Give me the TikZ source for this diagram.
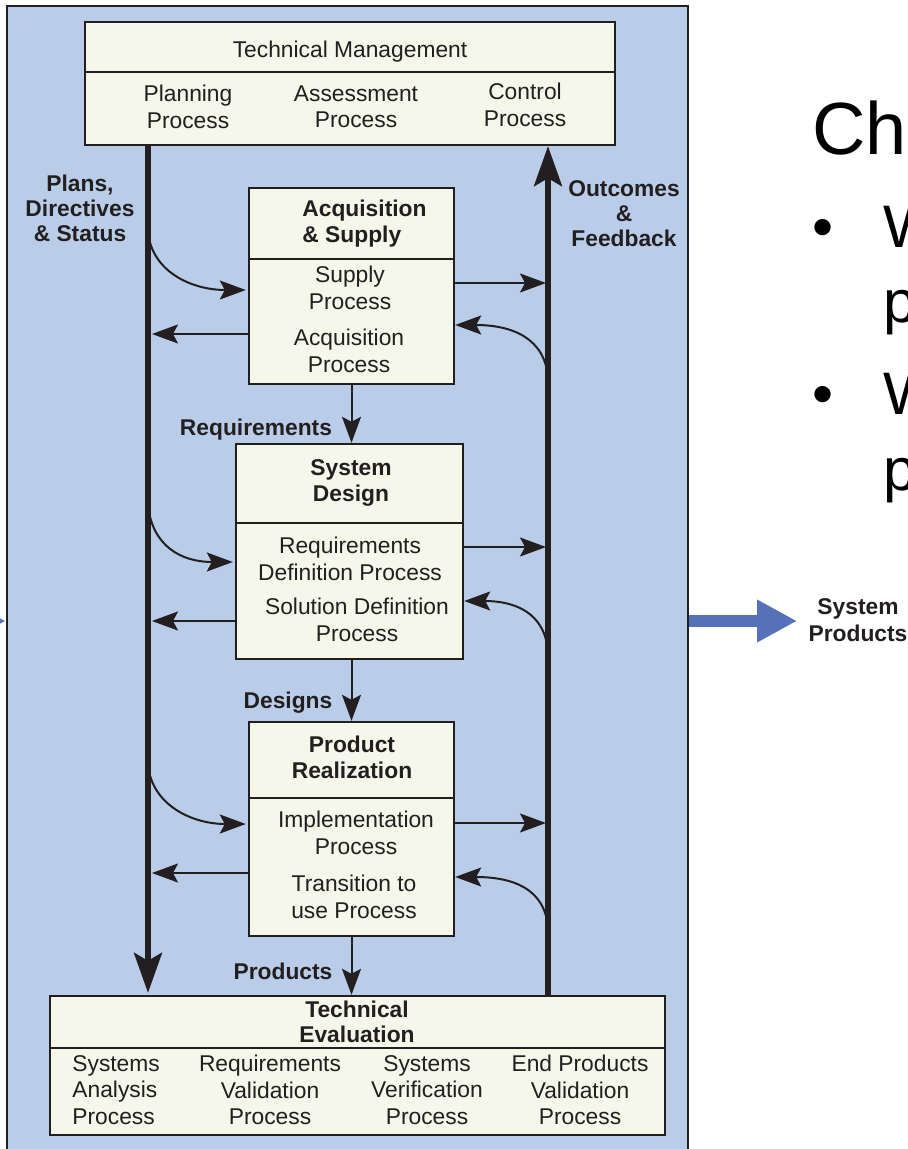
\documentclass[tikz,border=0pt]{standalone}
\usepackage{fontspec}
\setmainfont{Liberation Sans}
\usepackage{xcolor}
\usetikzlibrary{positioning,fit,shapes,calc,arrows.meta}

\definecolor{panelblue}{HTML}{B9CDE9}
\definecolor{boxfill}{HTML}{F4F7E9}
\definecolor{ink}{HTML}{231F20}
\definecolor{arrowblue}{HTML}{5572B9}

\begin{document}
\begin{tikzpicture}[x=0.5pt,y=-0.5pt,
        panel/.style={rectangle,draw=ink,fill=panelblue,line width=1.3pt,
          inner sep=0pt},
        box/.style={rectangle,draw=ink,fill=boxfill,line width=1.2pt,
          inner sep=0pt},
        divider/.style={draw=ink,line width=1.2pt},
        txt/.style={text=ink,align=center,inner sep=0pt,
          font=\fontsize{11.4}{13.2}\selectfont},
        lbl/.style={txt,font=\fontsize{11.4}{12.5}\selectfont\bfseries},
        title/.style={txt,font=\fontsize{11.4}{13.1}\selectfont\bfseries},
        slide/.style={text=black,inner sep=0pt,anchor=base west,
          font=\fontsize{30}{36}\selectfont},
        flow/.style={draw=ink,line width=2.6pt,
          -{Stealth[length=20pt,width=14pt,inset=4pt]}},
        link/.style={draw=ink,line width=1pt,
          -{Stealth[length=13pt,width=9.5pt,inset=2.5pt]}},
        sysarrow/.style={draw=arrowblue,line width=6pt,
          -{Triangle[length=20pt,width=20pt]}}]
      \useasboundingbox (0,0) rectangle (908,1149);
      \clip (0,0) rectangle (908,1149);
      \fill[white] (0,0) rectangle (908,1149);
      \node (panel) [panel, fit={(7,6) (688,1190)}] {};

      % technical management
      \node (tm) [box, fit={(85,22) (615,145)}] {};
      \draw[divider] (tm.west |- 0,72) -- (tm.east |- 0,72);
      \node (tmtitle) at (350,52) [txt] {Technical Management};
      \node (planning) at (188,107) [txt] {Planning\\Process};
      \node (assess) at (356,107) [txt] {Assessment\\Process};
      \node (control) at (525,105) [txt] {Control\\Process};

      % acquisition & supply
      \node (acq) [box, fit={(249,188) (454,384)}] {};
      \draw[divider] (acq.west |- 0,259) -- (acq.east |- 0,259);
      \node (acqtitle) at (302,224) [title, anchor=west, align=left] {Acquisition\\\& Supply};
      \node (supply) at (350,288) [txt] {Supply\\Process};
      \node (acqproc) at (349,351) [txt] {Acquisition\\Process};

      % system design
      \node (sd) [box, fit={(236,444) (463,659)}] {};
      \draw[divider] (sd.west |- 0,523) -- (sd.east |- 0,523);
      \node (sdtitle) at (351,483) [title] {System\\Design};
      \node (reqdef) at (350,559) [txt] {Requirements\\Definition Process};
      \node (soldef) at (357,620) [txt] {Solution Definition\\Process};

      % product realization
      \node (pr) [box, fit={(249,722) (454,936)}] {};
      \draw[divider] (pr.west |- 0,798) -- (pr.east |- 0,798);
      \node (prtitle) at (352,757) [title] {Product\\Realization};
      \node (impl) at (356,833) [txt] {Implementation\\Process};
      \node (trans) at (354,897) [txt] {Transition to\\use Process};

      % technical evaluation
      \node (te) [box, fit={(50,996) (665,1135)}] {};
      \draw[divider] (te.west |- 0,1048) -- (te.east |- 0,1048);
      \node (tetitle) at (357,1022) [title, font=\fontsize{11.4}{12.3}\selectfont\bfseries] {Technical\\Evaluation};
      \node (sysana) at (72,1090) [txt, anchor=west, align=left] {Systems\\Analysis\\Process};
      \node (reqval) at (270,1090) [txt] {Requirements\\Validation\\Process};
      \node (sysver) at (427,1090) [txt] {Systems\\Verification\\Process};
      \node (endval) at (580,1090) [txt] {End Products\\Validation\\Process};

      % the two main flows
      \coordinate (pl) at (148,0);
      \coordinate (plr) at (152,0);
      \coordinate (fb) at (548,0);
      \coordinate (fbl) at (546,0);
      \draw[flow, shorten >=1pt] (tm.south -| pl) -- (te.north -| pl);
      \draw[flow] (te.north -| fb) -- (tm.south -| fb);
      \node (plans) at (80,208) [lbl] {Plans,\\Directives\\\& Status};
      \node (outcomes) at (624,214) [lbl] {Outcomes\\\&\\Feedback};

      % plans into the processes
      \coordinate (in1) at (148,232);
      \coordinate (in2) at (148,505);
      \coordinate (in3) at (148,765);
      \draw[link, shorten >=1pt] (in1) .. controls (152,272) and (192,290) .. (acq.west |- 0,290);
      \draw[link, shorten >=1pt] (in2) .. controls (152,545) and (180,562) .. (sd.west |- 0,562);
      \draw[link, shorten >=1pt] (in3) .. controls (152,805) and (192,824) .. (pr.west |- 0,824);
      \draw[link] (acq.west |- 0,334) -- (plr |- 0,334);
      \draw[link] (sd.west |- 0,621) -- (plr |- 0,621);
      \draw[link] (pr.west |- 0,873) -- (plr |- 0,873);

      % outcomes back to technical management
      \draw[link] (acq.east |- 0,283) -- (fbl |- 0,283);
      \draw[link] (sd.east |- 0,547) -- (fbl |- 0,547);
      \draw[link] (pr.east |- 0,823) -- (fbl |- 0,823);
      \coordinate (out1) at (548,378);
      \coordinate (out2) at (548,652);
      \coordinate (out3) at (548,928);
      \draw[link] (out1) .. controls (545,338) and (512,325) .. (acq.east |- 0,325);
      \draw[link] (out2) .. controls (545,612) and (514,601) .. (sd.east |- 0,601);
      \draw[link] (out3) .. controls (545,888) and (512,877) .. (pr.east |- 0,877);

      % down the chain
      \draw[link] (acq.south) -- (acq.south |- sd.north);
      \draw[link] (sd.south -| acq.south) -- (acq.south |- pr.north);
      \draw[link] (pr.south) -- (pr.south |- te.north);
      \node (reqlbl) at (256,430) [lbl] {Requirements};
      \node (deslbl) at (288,703) [lbl] {Designs};
      \node (prodlbl) at (283,971) [lbl] {Products};

      % in and out of the system
      \coordinate (src) at (-120,621);
      \draw[sysarrow] (src) -- (panel.west |- 0,621);
      \draw[sysarrow] (panel.east |- 0,621) -- (797,621);
      \node (sysprod) at (858,620) [lbl, font=\fontsize{11.4}{13.5}\selectfont\bfseries] {System\\Products};

      % slide text
      \node (ch) at (812,155) [slide, font=\fontsize{37}{44}\selectfont] {Ch};
      \node (bul1) at (823,248) [slide, anchor=base] {•};
      \node (w1) at (883,248) [slide] {W};
      \node (p1) at (883,323) [slide] {p};
      \node (bul2) at (823,415) [slide, anchor=base] {•};
      \node (w2) at (883,415) [slide] {W};
      \node (p2) at (883,490) [slide] {p};
    \end{tikzpicture}
\end{document}
